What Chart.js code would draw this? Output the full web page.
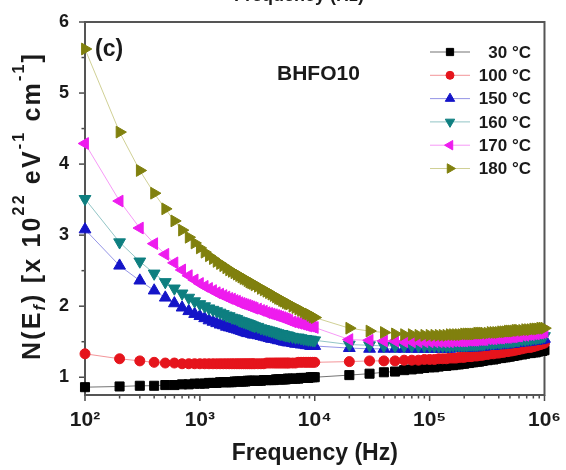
<!DOCTYPE html>
<html>
<head>
<meta charset="utf-8">
<script src="https://cdn.jsdelivr.net/npm/chart.js@4.4.0/dist/chart.umd.min.js"></script>
<style>
  html, body { margin: 0; padding: 0; background: #fff; }
</style>
</head>
<body>
<canvas id="nef" width="566" height="470"></canvas>
<script>
// frequency sweep (Hz)
const frequency = [
  100, 200, 300, 400, 500, 600, 700, 800, 900, 1000,
  1100, 1200, 1300, 1400, 1500, 1600, 1700, 1800, 1900, 2000,
  2100, 2200, 2300, 2400, 2500, 2600, 2700, 2800, 2900, 3000,
  3200, 3400, 3600, 3800, 4000, 4200, 4400, 4600, 4800, 5000,
  5200, 5400, 5600, 5800, 6000,
  6400, 6800, 7200, 7600, 8000, 8400, 8800, 9200, 9600, 10000,
  20000, 30000, 40000, 50000, 60000, 70000, 80000, 90000, 100000,
  110000, 120000, 130000, 140000, 150000, 160000, 170000, 180000, 190000, 200000,
  210000, 220000, 230000, 240000, 250000, 260000, 270000, 280000, 290000, 300000,
  320000, 340000, 360000, 380000, 400000, 420000, 440000, 460000, 480000, 500000,
  520000, 540000, 560000, 580000, 600000,
  640000, 680000, 720000, 760000, 800000, 840000, 880000, 920000, 960000, 1000000
];

// N(Ef) in 10^22 eV^-1 cm^-1
const n30 = [
  0.86, 0.87, 0.88, 0.88, 0.89, 0.89, 0.90, 0.90, 0.91, 0.91,
  0.91, 0.92, 0.92, 0.92, 0.93, 0.93, 0.93, 0.93, 0.93, 0.94,
  0.94, 0.94, 0.94, 0.94, 0.94, 0.95, 0.95, 0.95, 0.95, 0.95,
  0.95, 0.95, 0.96, 0.96, 0.96, 0.96, 0.96, 0.97, 0.97, 0.97,
  0.97, 0.97, 0.97, 0.98, 0.98,
  0.98, 0.98, 0.98, 0.99, 0.99, 0.99, 0.99, 1.00, 1.00, 1.00,
  1.03, 1.05, 1.07, 1.08, 1.10, 1.11, 1.12, 1.13, 1.14,
  1.14, 1.15, 1.16, 1.16, 1.17, 1.17, 1.18, 1.18, 1.19, 1.19,
  1.20, 1.20, 1.21, 1.21, 1.22, 1.22, 1.22, 1.23, 1.23, 1.24,
  1.24, 1.25, 1.25, 1.26, 1.27, 1.27, 1.28, 1.28, 1.29, 1.29,
  1.30, 1.30, 1.31, 1.31, 1.32,
  1.32, 1.33, 1.34, 1.34, 1.35, 1.35, 1.36, 1.37, 1.37, 1.38
];
const n100 = [
  1.33, 1.26, 1.23, 1.21, 1.20, 1.20, 1.19, 1.19, 1.19, 1.19,
  1.19, 1.19, 1.19, 1.19, 1.19, 1.19, 1.19, 1.19, 1.19, 1.19,
  1.19, 1.19, 1.19, 1.19, 1.19, 1.19, 1.19, 1.19, 1.19, 1.19,
  1.19, 1.19, 1.19, 1.20, 1.20, 1.20, 1.20, 1.20, 1.20, 1.20,
  1.20, 1.20, 1.20, 1.20, 1.20,
  1.20, 1.20, 1.21, 1.21, 1.21, 1.21, 1.21, 1.21, 1.21, 1.21,
  1.22, 1.23, 1.23, 1.23, 1.24, 1.24, 1.24, 1.25, 1.25,
  1.25, 1.26, 1.26, 1.26, 1.27, 1.27, 1.27, 1.28, 1.28, 1.28,
  1.29, 1.29, 1.29, 1.30, 1.30, 1.30, 1.31, 1.31, 1.31, 1.32,
  1.32, 1.33, 1.33, 1.34, 1.34, 1.35, 1.35, 1.36, 1.36, 1.37,
  1.37, 1.38, 1.38, 1.39, 1.39,
  1.40, 1.41, 1.42, 1.42, 1.43, 1.44, 1.45, 1.46, 1.47, 1.48
];
const n150 = [
  3.08, 2.57, 2.36, 2.22, 2.12, 2.04, 1.98, 1.93, 1.89, 1.86,
  1.83, 1.80, 1.78, 1.76, 1.74, 1.73, 1.71, 1.70, 1.69, 1.68,
  1.67, 1.66, 1.65, 1.64, 1.63, 1.62, 1.62, 1.61, 1.60, 1.60,
  1.59, 1.58, 1.57, 1.56, 1.55, 1.54, 1.54, 1.53, 1.52, 1.52,
  1.51, 1.50, 1.50, 1.49, 1.49,
  1.48, 1.47, 1.47, 1.46, 1.46, 1.45, 1.45, 1.44, 1.44, 1.44,
  1.41, 1.40, 1.40, 1.40, 1.40, 1.40, 1.40, 1.40, 1.40,
  1.40, 1.40, 1.40, 1.40, 1.40, 1.41, 1.41, 1.41, 1.41, 1.41,
  1.41, 1.42, 1.42, 1.42, 1.42, 1.42, 1.43, 1.43, 1.43, 1.43,
  1.44, 1.44, 1.44, 1.45, 1.45, 1.45, 1.46, 1.46, 1.46, 1.47,
  1.47, 1.47, 1.48, 1.48, 1.48,
  1.49, 1.49, 1.50, 1.50, 1.51, 1.51, 1.52, 1.52, 1.53, 1.54
];
const n160 = [
  3.51, 2.90, 2.63, 2.46, 2.34, 2.25, 2.18, 2.12, 2.07, 2.03,
  2.00, 1.97, 1.95, 1.93, 1.91, 1.89, 1.87, 1.86, 1.84, 1.83,
  1.82, 1.80, 1.79, 1.78, 1.77, 1.76, 1.75, 1.74, 1.73, 1.72,
  1.71, 1.69, 1.68, 1.67, 1.66, 1.65, 1.64, 1.63, 1.62, 1.61,
  1.61, 1.60, 1.59, 1.59, 1.58,
  1.57, 1.56, 1.56, 1.55, 1.54, 1.54, 1.53, 1.53, 1.52, 1.52,
  1.46, 1.45, 1.44, 1.44, 1.44, 1.44, 1.44, 1.44, 1.44,
  1.44, 1.44, 1.44, 1.44, 1.44, 1.45, 1.45, 1.45, 1.45, 1.45,
  1.45, 1.46, 1.46, 1.46, 1.46, 1.46, 1.47, 1.47, 1.47, 1.47,
  1.48, 1.48, 1.48, 1.49, 1.49, 1.49, 1.50, 1.50, 1.50, 1.51,
  1.51, 1.51, 1.52, 1.52, 1.52,
  1.53, 1.53, 1.54, 1.54, 1.55, 1.55, 1.56, 1.56, 1.57, 1.58
];
const n170 = [
  4.29, 3.48, 3.10, 2.88, 2.73, 2.61, 2.51, 2.43, 2.37, 2.32,
  2.28, 2.25, 2.22, 2.19, 2.17, 2.15, 2.13, 2.11, 2.10, 2.08,
  2.07, 2.05, 2.04, 2.03, 2.02, 2.01, 2.00, 1.99, 1.98, 1.97,
  1.96, 1.94, 1.93, 1.91, 1.90, 1.89, 1.88, 1.87, 1.86, 1.85,
  1.84, 1.83, 1.82, 1.81, 1.80,
  1.78, 1.77, 1.76, 1.75, 1.74, 1.73, 1.72, 1.72, 1.71, 1.70,
  1.53, 1.52, 1.51, 1.51, 1.50, 1.50, 1.50, 1.50, 1.50,
  1.50, 1.50, 1.50, 1.50, 1.50, 1.51, 1.51, 1.51, 1.51, 1.51,
  1.52, 1.52, 1.52, 1.52, 1.52, 1.53, 1.53, 1.53, 1.53, 1.53,
  1.54, 1.54, 1.54, 1.55, 1.55, 1.55, 1.56, 1.56, 1.56, 1.57,
  1.57, 1.57, 1.58, 1.58, 1.58,
  1.59, 1.59, 1.60, 1.60, 1.61, 1.61, 1.62, 1.62, 1.63, 1.64
];
const n180 = [
  5.62, 4.45, 3.91, 3.59, 3.37, 3.20, 3.07, 2.97, 2.89, 2.82,
  2.76, 2.71, 2.67, 2.63, 2.60, 2.57, 2.54, 2.51, 2.49, 2.47,
  2.45, 2.43, 2.41, 2.39, 2.38, 2.36, 2.34, 2.33, 2.32, 2.30,
  2.28, 2.25, 2.23, 2.21, 2.19, 2.17, 2.15, 2.13, 2.11, 2.10,
  2.08, 2.07, 2.05, 2.04, 2.03,
  2.00, 1.98, 1.96, 1.94, 1.92, 1.90, 1.89, 1.87, 1.85, 1.84,
  1.69, 1.65, 1.63, 1.61, 1.60, 1.60, 1.59, 1.59, 1.59,
  1.59, 1.59, 1.59, 1.59, 1.60, 1.60, 1.60, 1.60, 1.60, 1.61,
  1.61, 1.61, 1.61, 1.61, 1.61, 1.62, 1.62, 1.62, 1.62, 1.62,
  1.62, 1.63, 1.63, 1.63, 1.63, 1.64, 1.64, 1.64, 1.65, 1.65,
  1.65, 1.65, 1.66, 1.66, 1.66,
  1.66, 1.67, 1.67, 1.67, 1.68, 1.68, 1.68, 1.69, 1.69, 1.69
];

const seriesLabels = ['30 °C', '100 °C', '150 °C', '160 °C', '170 °C', '180 °C'];
const seriesValues = [n30, n100, n150, n160, n170, n180];

const xTicks = [100, 1000, 10000, 100000, 1000000];
const xTickLabels = ['10²', '10³', '10⁴', '10⁵', '10⁶'];
const yTicks = [1, 2, 3, 4, 5, 6];

// marker look per series (Origin style)
const looks = [
  { color: '#000000', line: 'rgba(0,0,0,0.55)', style: 'rect', rotation: 0, radius: 6.4 },
  { color: '#e5141c', line: 'rgba(229,20,28,0.45)', style: 'circle', rotation: 0, radius: 5 },
  { color: '#1414c8', line: 'rgba(20,20,200,0.45)', style: 'triangle', rotation: 0, radius: 6.8 },
  { color: '#0e7f80', line: 'rgba(14,127,128,0.45)', style: 'triangle', rotation: 180, radius: 6.8 },
  { color: '#ee1cee', line: 'rgba(238,28,238,0.45)', style: 'triangle', rotation: -90, radius: 6.8 },
  { color: '#80800e', line: 'rgba(150,150,20,0.45)', style: 'triangle', rotation: 90, radius: 6.8 }
];

const FONT = '"Liberation Sans", Arial, sans-serif';
const INK = '#1a1a1a';
Chart.defaults.font.family = FONT;
Chart.defaults.color = INK;

const datasets = seriesValues.map((vals, i) => ({
  label: seriesLabels[i],
  data: frequency.map((f, k) => ({ x: f, y: vals[k] })),
  borderColor: looks[i].line,
  borderWidth: 1,
  pointStyle: looks[i].style,
  rotation: looks[i].rotation,
  pointRadius: looks[i].radius,
  pointBackgroundColor: looks[i].color,
  pointBorderColor: looks[i].color,
  pointBorderWidth: 1,
  tension: 0,
  clip: false,
  order: seriesValues.length - i
}));

function drawYTitle(ctx, cx, cy, length) {
  const big = 'bold 25px ' + FONT;
  const small = 'bold 16px ' + FONT;
  const sub = 'italic bold 16px ' + FONT;
  const parts = [
    ['N(E', big, 0], ['f', sub, 5], [') [x 10', big, 0], ['22', small, -16],
    [' eV', big, 0], ['-1', small, -16], [' cm', big, 0], ['-1', small, -16], [']', big, 0]
  ];
  let raw = 0, chars = 0;
  parts.forEach(p => { ctx.font = p[1]; raw += ctx.measureText(p[0]).width; chars += p[0].length; });
  const extra = Math.max(0, (length - raw) / chars);
  ctx.save();
  ctx.translate(cx, cy);
  ctx.rotate(-Math.PI / 2);
  ctx.fillStyle = INK;
  ctx.textBaseline = 'alphabetic';
  ctx.textAlign = 'left';
  let u = -length / 2;
  parts.forEach(p => {
    ctx.font = p[1];
    for (const ch of p[0]) {
      ctx.fillText(ch, u, p[2]);
      u += ctx.measureText(ch).width + extra;
    }
  });
  ctx.restore();
}

const decor = {
  id: 'decor',
  beforeDatasetsDraw(chart) {
    const { ctx, chartArea: a, scales: { x, y } } = chart;
    ctx.save();
    ctx.strokeStyle = '#4a4a4a';
    ctx.lineWidth = 1.5;
    for (let e = 2; e <= 6; e++) {
      for (let m = 1; m <= 9; m++) {
        const v = m * Math.pow(10, e);
        if (v > 1e6) break;
        const px = x.getPixelForValue(v);
        ctx.beginPath();
        ctx.moveTo(px, a.bottom);
        ctx.lineTo(px, a.bottom + (m === 1 ? 6 : 3.5));
        ctx.stroke();
      }
    }
    for (let v = 1; v <= 6; v += 0.5) {
      const py = y.getPixelForValue(v);
      ctx.beginPath();
      ctx.moveTo(a.left, py);
      ctx.lineTo(a.left - (Number.isInteger(v) ? 6 : 3.5), py);
      ctx.stroke();
    }
    ctx.lineWidth = 2;
    ctx.strokeStyle = '#555';
    ctx.strokeRect(a.left, a.top, a.right - a.left, a.bottom - a.top);
    ctx.restore();
  },
  afterDraw(chart) {
    const { ctx } = chart;
    ctx.save();
    // clipped title of the panel above
    ctx.fillStyle = INK;
    ctx.font = 'bold 18px ' + FONT;
    ctx.textAlign = 'center';
    ctx.textBaseline = 'alphabetic';
    ctx.fillText('Frequency (Hz)', 299, 1);

    ctx.textAlign = 'left';
    ctx.font = 'bold 23px ' + FONT;
    ctx.fillText('(c)', 95, 56);
    ctx.font = 'bold 21px ' + FONT;
    ctx.fillText('BHFO10', 277, 80);

    // legend
    ctx.font = 'bold 17px ' + FONT;
    ctx.textAlign = 'right';
    ctx.textBaseline = 'middle';
    seriesLabels.forEach((lab, i) => {
      const yy = 52 + i * 23.3;
      const lk = looks[i];
      ctx.strokeStyle = lk.line;
      ctx.lineWidth = 1;
      ctx.beginPath();
      ctx.moveTo(430, yy);
      ctx.lineTo(470, yy);
      ctx.stroke();
      ctx.fillStyle = lk.color;
      ctx.strokeStyle = lk.color;
      Chart.helpers.drawPoint(ctx, { pointStyle: lk.style, rotation: lk.rotation, radius: lk.radius * 0.8, borderWidth: 1 }, 450, yy);
      ctx.fillStyle = INK;
      ctx.fillText(lab, 531, yy + 1);
    });
    ctx.restore();

    drawYTitle(ctx, 40, 206, 308);
  }
};

new Chart(document.getElementById('nef'), {
  type: 'line',
  data: { datasets },
  options: {
    responsive: false,
    animation: false,
    layout: { padding: { left: 0, right: 14, top: 22, bottom: 0 } },
    plugins: { legend: { display: false }, tooltip: { enabled: false } },
    scales: {
      x: {
        type: 'logarithmic',
        min: 100,
        max: 1000000,
        grid: { display: false },
        border: { display: false },
        afterBuildTicks(s) { s.ticks = xTicks.map(v => ({ value: v })); },
        afterFit(s) { s.height = 75; },
        ticks: {
          autoSkip: false,
          maxRotation: 0,
          padding: 5,
          color: INK,
          font: { size: 21, weight: 'bold' },
          callback: (v) => xTickLabels[xTicks.indexOf(v)]
        },
        title: {
          display: true,
          text: 'Frequency (Hz)',
          color: INK,
          font: { size: 23, weight: 'bold' },
          padding: { top: 0, bottom: 3 }
        }
      },
      y: {
        min: 0.75,
        max: 6,
        grid: { display: false },
        border: { display: false },
        afterBuildTicks(s) { s.ticks = yTicks.map(v => ({ value: v })); },
        afterFit(s) { s.width = 85; },
        ticks: {
          padding: 8,
          color: INK,
          font: { size: 18, weight: 'bold' }
        }
      }
    }
  },
  plugins: [decor]
});
</script>
</body>
</html>
